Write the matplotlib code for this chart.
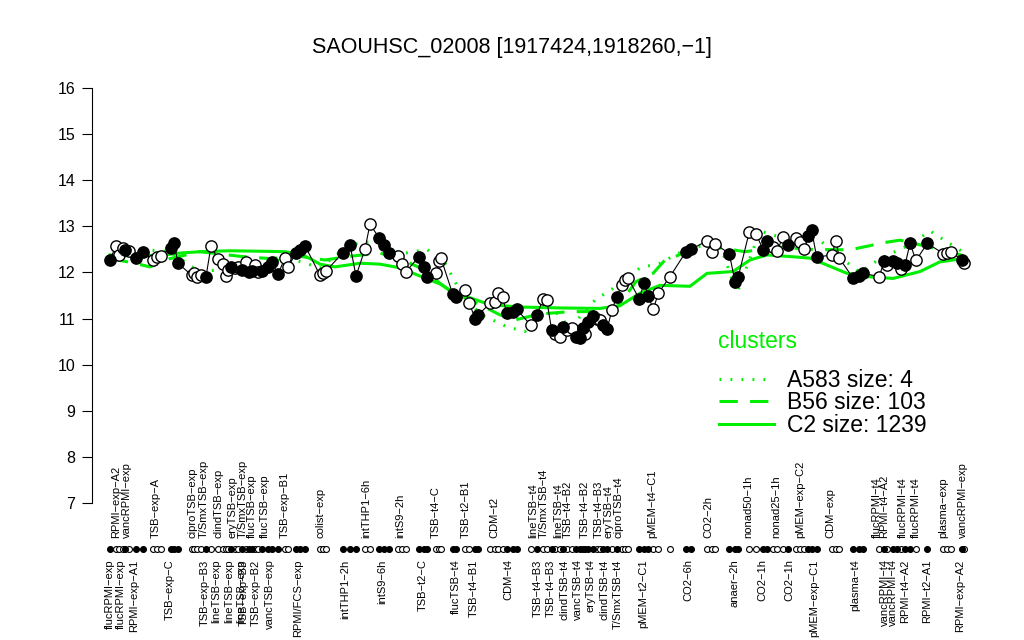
import matplotlib
matplotlib.use("Agg")
import matplotlib.pyplot as plt
import numpy as np
from matplotlib.lines import Line2D

plt.rcParams['font.family'] = ['Liberation Sans', 'DejaVu Sans']

# ---- data (sample position along the condition axis, expression, filled flag) ----
sample_pos = [110, 116, 119, 122.7, 125, 129, 136, 142.7, 152.7, 156.7, 160.7,
              170.7, 174, 178, 191.7, 194, 196.7, 201, 206, 211, 218, 222.7, 226,
              228, 230.7, 235, 237.7, 241.7, 245.7, 249, 252, 255, 257.7, 261.7,
              268, 271.7, 278, 285, 288, 296, 300, 305, 320, 323, 326, 343, 350,
              356, 365, 370, 379, 384, 389, 398, 402, 406, 419, 424, 427, 436,
              439.3, 441, 452.7, 456, 465, 469.3, 475, 478.3, 490, 495, 498.3,
              502.7, 506.7, 512.7, 516.7, 530.7, 537.3, 542.7, 546.7, 551.7, 555,
              560, 562.7, 567, 571.7, 576, 580, 582.7, 585, 588.3, 593.3, 597,
              600, 603.3, 607.3, 611.7, 616.7, 621.7, 625, 628.3, 639.3, 644,
              648.3, 653.3, 658.3, 670, 686, 691, 707.3, 711.7, 715, 729.3, 735,
              738.3, 749.3, 756, 763.3, 767.3, 772.7, 777.3, 782.7, 788.3, 796,
              800, 804, 808.3, 811.7, 816.7, 831.7, 836, 839.3, 853.3, 859.3,
              863.3, 879.3, 884, 886.7, 892.7, 897.3, 900.7, 905, 910, 916, 927.3,
              943.3, 947.3, 950.7, 961.7, 964]
sample_val = [12.27, 12.58, 12.38, 12.53, 12.49, 12.47, 12.31, 12.45, 12.27, 12.34, 12.36,
              12.53, 12.64, 12.20, 11.94, 11.98, 11.91, 11.95, 11.91, 12.57, 12.29, 12.18, 11.93,
              12.05, 12.12, 12.09, 12.11, 12.05, 12.23, 12.02, 12.04, 12.16, 12.00, 12.04,
              12.12, 12.23, 11.97, 12.31, 12.12, 12.42, 12.48, 12.58, 11.94, 11.98, 12.03, 12.43, 12.60,
              11.92, 12.51, 13.05, 12.75, 12.60, 12.42, 12.36, 12.18, 12.02, 12.34, 12.12, 11.91, 11.98,
              12.25, 12.31, 11.53, 11.47, 11.62, 11.34, 11.00, 11.08, 11.33, 11.35, 11.55,
              11.46, 11.11, 11.15, 11.20, 10.86, 11.08, 11.42, 11.40, 10.75, 10.66,
              10.59, 10.82, 10.75, 10.79, 10.60, 10.57, 10.80, 10.66, 10.93, 11.05, 11.00,
              10.97, 10.86, 10.77, 11.18, 11.46, 11.73, 11.84, 11.87, 11.42, 11.78,
              11.49, 11.20, 11.55, 11.91, 12.45, 12.50, 12.69, 12.45, 12.62, 12.41, 11.80,
              11.91, 12.88, 12.83, 12.49, 12.69, 12.56, 12.47, 12.76, 12.60, 12.74,
              12.67, 12.50, 12.78, 12.91, 12.33, 12.38, 12.69, 12.31, 11.87, 11.92,
              11.98, 11.91, 12.24, 12.17, 12.24, 12.20, 12.07, 12.16, 12.63, 12.26, 12.63,
              12.41, 12.43, 12.45, 12.27, 12.20]
sample_filled = [1, 0, 0, 0, 1, 0, 1, 1, 0, 0, 0,
                 1, 1, 1, 0, 0, 0, 0, 1, 0, 0, 0, 0,
                 0, 1, 0, 0, 1, 0, 1, 1, 0, 0, 1,
                 1, 1, 1, 0, 0, 1, 1, 1, 0, 0, 0, 1, 1,
                 1, 0, 0, 1, 1, 1, 0, 0, 0, 1, 1, 1, 0,
                 0, 0, 1, 1, 0, 0, 1, 1, 0, 0, 0,
                 0, 1, 1, 1, 0, 1, 0, 0, 1, 0,
                 0, 1, 0, 0, 1, 1, 1, 0, 1, 1, 0,
                 0, 1, 1, 0, 1, 0, 0, 0, 1, 1,
                 1, 0, 0, 0, 1, 1, 0, 0, 0, 1, 1,
                 1, 0, 0, 1, 1, 0, 0, 0, 1, 0,
                 0, 0, 1, 1, 1, 0, 0, 0, 1, 1,
                 1, 0, 1, 0, 1, 1, 0, 1, 1, 0, 1,
                 0, 0, 0, 1, 0]

# ---- cluster mean profiles ----
c2_pos = [110, 130, 160, 180, 200, 230, 260, 285, 300, 310, 320, 335, 360, 380, 400,
          418, 440, 455, 470, 490, 520, 560, 600, 620, 640, 660, 690, 707, 733, 750,
          767, 793, 810, 827, 847, 867, 893, 920, 940, 966]
c2_val = [12.38, 12.36, 12.37, 12.42, 12.45, 12.47, 12.46, 12.45, 12.40, 12.30, 12.18,
          12.12, 12.20, 12.18, 12.10, 11.94, 11.75, 11.55, 11.45, 11.30, 11.25, 11.23,
          11.22, 11.28, 11.55, 11.72, 11.70, 11.98, 12.02, 12.27, 12.38, 12.34, 12.31,
          12.16, 11.98, 11.91, 11.87, 12.02, 12.23, 12.31]
b56_pos = [110, 135, 150, 170, 200, 240, 270, 300, 325, 350, 380, 400, 420, 450, 480,
           500, 515, 540, 570, 600, 615, 636, 653, 665, 675, 700, 745, 780, 810, 850,
           885, 900, 930, 966]
b56_val = [12.30, 12.20, 12.12, 12.30, 12.45, 12.35, 12.30, 12.35, 12.27, 12.35, 12.42,
           12.30, 12.10, 11.60, 11.30, 11.08, 10.97, 11.10, 11.15, 11.15, 11.18, 11.80,
           11.98, 12.27, 12.34, 12.60, 12.45, 12.55, 12.50, 12.49, 12.65, 12.70, 12.55, 12.35]
a583_pos = [110, 140, 170, 200, 230, 260, 290, 320, 350, 380, 400, 427, 445, 460, 480,
            507, 525, 545, 570, 595, 620, 640, 660, 690, 720, 737, 760, 790, 810, 830,
            860, 880, 910, 930, 966]
a583_val = [12.30, 12.50, 12.45, 12.00, 12.10, 12.20, 12.30, 12.10, 12.60, 12.70, 12.40,
            12.50, 12.20, 11.60, 11.10, 10.82, 10.72, 11.40, 10.80, 11.40, 11.75, 12.10,
            12.20, 12.55, 12.60, 11.55, 12.90, 12.70, 12.90, 12.50, 12.00, 12.30, 12.60,
            12.90, 12.40]

cluster_names = ["A583 size: 4", "B56 size: 103", "C2 size: 1239"]
legend_title = "clusters"

top_labels = ["RPMI\u2212exp\u2212A2", "vancRPMI\u2212exp", "TSB\u2212exp\u2212A", "ciproTSB\u2212exp",
              "T/SmxTSB\u2212exp", "clindTSB\u2212exp", "eryTSB\u2212exp", "T/SmxTSB\u2212exp",
              "flucTSB\u2212exp", "flucTSB\u2212exp", "TSB\u2212exp\u2212B1", "colist\u2212exp",
              "intTHP1\u22126h", "intS9\u22122h", "TSB\u2212t4\u2212C", "TSB\u2212t2\u2212B1", "CDM\u2212t2",
              "lineTSB\u2212t4", "T/SmxTSB\u2212t4", "lineTSB\u2212t4", "TSB\u2212t4\u2212B2",
              "TSB\u2212t4\u2212B2", "TSB\u2212t4\u2212B3", "eryTSB\u2212t4", "ciproTSB\u2212t4",
              "pMEM\u2212t4\u2212C1", "CO2\u22122h", "nonad50\u22121h", "nonad25\u22121h",
              "pMEM\u2212exp\u2212C2", "CDM\u2212exp", "flucRPMI\u2212t4", "RPMI\u2212t4\u2212A2",
              "flucRPMI\u2212t4", "flucRPMI\u2212t4", "plasma\u2212exp", "vancRPMI\u2212exp"]
top_pos = [116, 127, 156, 193, 204, 218, 232, 243, 252, 265, 285, 321, 366, 400, 436,
           466, 494, 533, 544, 558, 568, 585, 599, 608, 618, 652, 708, 748, 776, 800,
           830, 877, 884, 903, 916, 943, 963]
bottom_labels = ["flucRPMI\u2212exp", "flucRPMI\u2212exp", "RPMI\u2212exp\u2212A1", "TSB\u2212exp\u2212C",
                 "TSB\u2212exp\u2212B3", "lineTSB\u2212exp", "lineTSB\u2212exp", "lineTSB\u2212exp",
                 "TSB\u2212exp\u2212B3", "TSB\u2212exp\u2212B2", "vancTSB\u2212exp", "RPMI/FCS\u2212exp",
                 "intTHP1\u22122h", "intS9\u22126h", "TSB\u2212t2\u2212C", "flucTSB\u2212t4",
                 "TSB\u2212t4\u2212B1", "CDM\u2212t4", "TSB\u2212t4\u2212B3", "TSB\u2212t4\u2212B3",
                 "clindTSB\u2212t4", "vancTSB\u2212t4", "eryTSB\u2212t4", "clindTSB\u2212t4",
                 "T/SmxTSB\u2212t4", "pMEM\u2212t2\u2212C1", "CO2\u22126h", "anaer\u22122h", "CO2\u22121h",
                 "CO2\u22121h", "pMEM\u2212exp\u2212C1", "plasma\u2212t4", "vancRPMI\u2212t4",
                 "vancRPMI\u2212t4", "RPMI\u2212t4\u2212A2", "RPMI\u2212t2\u2212A1", "RPMI\u2212exp\u2212A2"]
bottom_pos = [110, 121, 134, 170, 205, 216, 229, 241, 244, 256, 270, 298, 345, 382, 423,
              456, 474, 508, 538, 551, 564, 578, 591, 605, 618, 643, 688, 735, 762, 789,
              814, 855, 885, 893, 905, 927, 960]

title = "SAOUHSC_02008 [1917424,1918260,\u22121]"

# ---- figure ----
W, H = 1024, 640
fig = plt.figure(figsize=(W / 100, H / 100), dpi=100)
x0, x1 = 92, 980
ax = fig.add_axes([x0 / W, (H - 503) / H, (x1 - x0) / W, (503 - 88) / H])
ax.set_xlim(x0, x1)
ax.set_ylim(7, 16)

green = '#00ee00'
styles = [(0, (0.6, 3.0)), (0, (6, 4)), '-']
ax.plot(a583_pos, a583_val, color=green, lw=2.2, ls=styles[0], zorder=2)
ax.plot(b56_pos, b56_val, color=green, lw=2.2, ls=styles[1], zorder=2)
ax.plot(c2_pos, c2_val, color=green, lw=2.2, ls=styles[2], zorder=2)

pos = np.array(sample_pos)
val = np.array(sample_val)
fil = np.array(sample_filled, dtype=bool)
ax.plot(pos, val, color='black', lw=0.8, zorder=3)
ax.scatter(pos[~fil], val[~fil], s=66, facecolor='white', edgecolor='black', lw=1.0, zorder=4)
ax.scatter(pos[fil], val[fil], s=66, facecolor='black', edgecolor='black', lw=1.0, zorder=5)

# rug
rug_y = 6.0
ax.scatter(pos[~fil], np.full((~fil).sum(), rug_y), s=18, facecolor='white',
           edgecolor='black', lw=0.8, clip_on=False, zorder=4)
ax.scatter(pos[fil], np.full(fil.sum(), rug_y), s=18, facecolor='black',
           edgecolor='black', lw=0.8, clip_on=False, zorder=5)

for lab, p in zip(top_labels, top_pos):
    ax.text(p, 6.24, lab, rotation=90, ha='center', va='bottom', fontsize=8.0, clip_on=False)
for lab, p in zip(bottom_labels, bottom_pos):
    ax.text(p, 5.78, lab, rotation=90, ha='center', va='top', fontsize=8.0, clip_on=False)

# axes styling (R-like)
for s in ['top', 'right', 'bottom']:
    ax.spines[s].set_visible(False)
ax.spines['left'].set_bounds(7, 16)
ax.spines['left'].set_linewidth(0.8)
ax.set_xticks([])
ax.set_yticks(range(7, 17))
ax.tick_params(axis='y', length=7, width=0.8, labelsize=11.5, pad=5)

fig.text(512 / W, 1 - 48 / H, title, ha='center', va='center', fontsize=15.5)

# legend
handles = [Line2D([], [], color=green, lw=2.2, ls=st) for st in styles]
leg = ax.legend(handles, cluster_names, loc='upper left', frameon=False,
                bbox_to_anchor=(714 / W, 1 - 364 / H), bbox_transform=fig.transFigure,
                fontsize=16.5, handlelength=2.4,
                labelspacing=-0.02, handletextpad=0.6, borderaxespad=0, borderpad=0.2)
fig.text(718 / W, 1 - 342 / H, legend_title, color=green, fontsize=16.5,
         ha='left', va='center')

fig.savefig('out.png', dpi=100)
